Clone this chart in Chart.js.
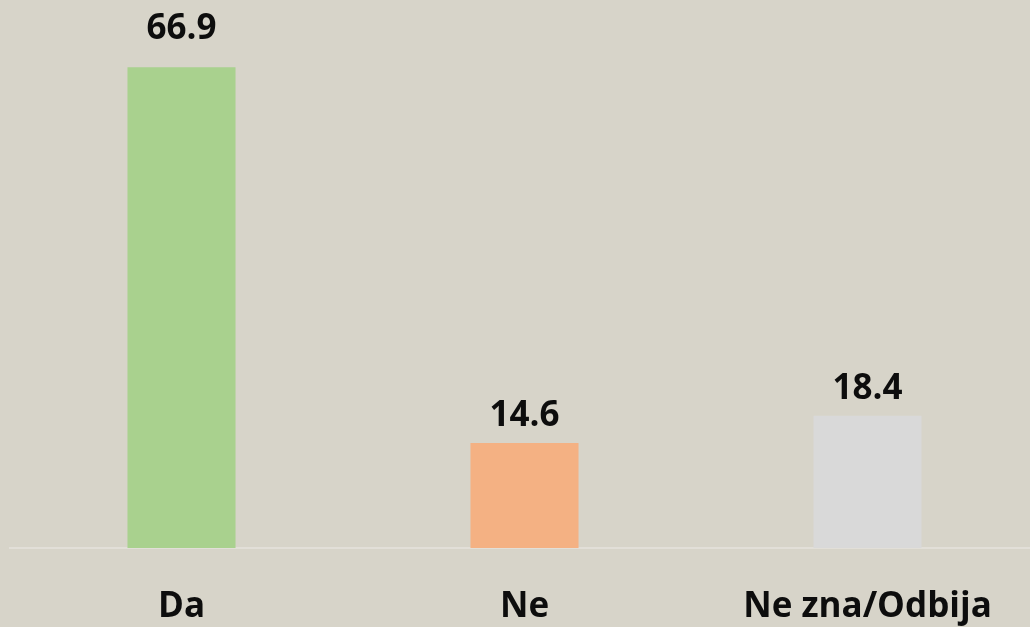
<!DOCTYPE html>
<html>
<head>
<meta charset="utf-8">
<script src="https://cdn.jsdelivr.net/npm/chart.js@4"></script>
<style>
  html, body { margin: 0; padding: 0; overflow: hidden; background: #d7d4c9; height: 627px; }
  #wrap { width: 1040px; height: 666px; position: relative; }
</style>
</head>
<body>
<div id="wrap"><canvas id="c"></canvas></div>
<script>
const categories = ["Da", "Ne", "Ne zna/Odbija"];
const values = [66.9, 14.6, 18.4];
const barColors = ["#a9d18e", "#f4b183", "#d9d9d9"];
const labelOffsets = [28, 17, 17];

const valueLabels = {
  id: "valueLabels",
  afterDatasetsDraw(chart) {
    const ctx = chart.ctx;
    const meta = chart.getDatasetMeta(0);
    ctx.save();
    ctx.font = "bold 35px 'Open Sans'";
    ctx.fillStyle = "#0d0d0d";
    ctx.textAlign = "center";
    ctx.textBaseline = "alphabetic";
    meta.data.forEach((bar, i) => {
      ctx.fillText(values[i].toFixed(1), bar.x, bar.y - labelOffsets[i]);
    });
    ctx.restore();
  }
};

new Chart(document.getElementById("c"), {
  type: "bar",
  data: {
    labels: categories,
    datasets: [{
      data: values,
      backgroundColor: barColors,
      borderWidth: 0,
      categoryPercentage: 1,
      barPercentage: 0.315
    }]
  },
  options: {
    responsive: true,
    maintainAspectRatio: false,
    animation: false,
    layout: { padding: { left: 10, right: 1, top: 45, bottom: 0 } },
    plugins: { legend: { display: false }, tooltip: { enabled: false } },
    scales: {
      y: { display: false, min: 0, max: 70 },
      x: {
        grid: { display: false, drawTicks: false },
        border: { display: true, color: "#e2dfd8", width: 2 },
        ticks: {
          color: "#0d0d0d",
          font: { family: "'Open Sans'", size: 35, weight: "bold" },
          padding: 38,
          maxRotation: 0
        }
      }
    }
  },
  plugins: [valueLabels]
});
</script>
</body>
</html>
